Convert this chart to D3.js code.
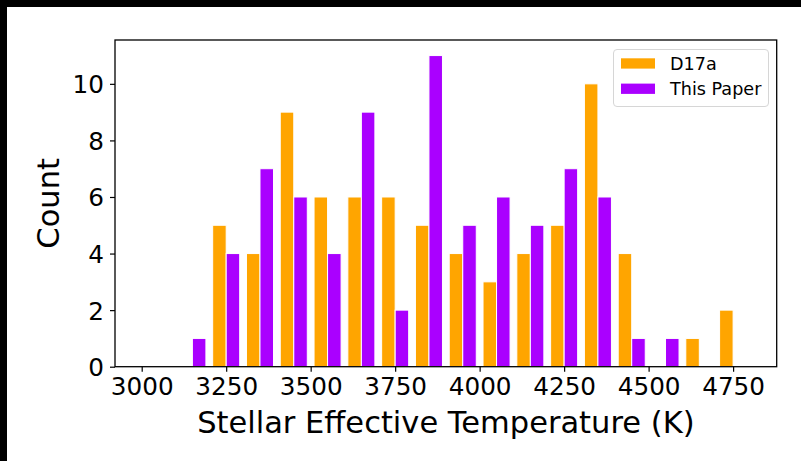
<!DOCTYPE html>
<html lang="en">
<head>
    <meta charset="UTF-8">
    <title>Stellar Effective Temperature histogram</title>
    <script src="https://d3js.org/d3.v7.min.js"></script>
    <style>
        body { margin: 0; background: #000; }
        text { font-family: "DejaVu Sans", sans-serif; fill: #000; }
    </style>
</head>
<body>
    <div id="chart"></div>

    <script>
        // bin centres (100 K bins from 3000 to 4800)
        const binCenters = [3050, 3150, 3250, 3350, 3450, 3550, 3650, 3750, 3850,
                            3950, 4050, 4150, 4250, 4350, 4450, 4550, 4650, 4750];
        const d17a      = [0, 0, 5, 4, 9, 6, 6, 6, 5, 4, 3, 4, 5, 10, 4, 0, 1, 2];
        const thisPaper = [0, 1, 4, 7, 6, 4, 9, 2, 11, 5, 6, 5, 7, 6, 1, 1, 0, 0];
        const seriesNames = ["D17a", "This Paper"];
        const seriesColors = ["#ffa500", "#aa00ff"];
        const xTicks = [3000, 3250, 3500, 3750, 4000, 4250, 4500, 4750];
        const yTicks = [0, 2, 4, 6, 8, 10];

        const width = 801, height = 461;
        const plot = { left: 115, right: 776.7, top: 40, bottom: 366.7 };
        const binWidth = 100;
        const barW = binWidth * 0.4;

        const svg = d3.select('#chart').append('svg')
            .attr('width', width)
            .attr('height', height);

        // black frame on top/left, white figure
        svg.append('rect').attr('width', width).attr('height', height).attr('fill', '#000');
        svg.append('rect').attr('x', 7).attr('y', 7)
            .attr('width', width - 7).attr('height', height - 7).attr('fill', '#fff');

        const xMin = d3.min(binCenters) - barW, xMax = d3.max(binCenters) + barW;
        const pad = (xMax - xMin) * 0.05;
        const x = d3.scaleLinear().domain([xMin - pad, xMax + pad]).range([plot.left, plot.right]);
        const yMax = d3.max(d17a.concat(thisPaper)) * 1.05;
        const y = d3.scaleLinear().domain([0, yMax]).range([plot.bottom, plot.top]);

        // bars
        const series = [d17a, thisPaper];
        series.forEach((vals, si) => {
            const rows = binCenters.map((c, i) => ({ c: c, v: vals[i] })).filter(d => d.v > 0);
            svg.append('g').selectAll('rect')
                .data(rows)
                .enter()
                .append('rect')
                .attr('x', d => x(d.c - barW + si * barW))
                .attr('y', d => y(d.v))
                .attr('width', d => x(d.c + barW) - x(d.c))
                .attr('height', d => y(0) - y(d.v))
                .attr('fill', seriesColors[si])
                .attr('stroke', '#fff')
                .attr('stroke-width', 1);
        });

        // axes
        const xAxis = svg.append('g')
            .attr('transform', `translate(0,${plot.bottom})`)
            .call(d3.axisBottom(x).tickValues(xTicks).tickFormat(d3.format('d')).tickSize(5).tickPadding(6));
        const yAxis = svg.append('g')
            .attr('transform', `translate(${plot.left},0)`)
            .call(d3.axisLeft(y).tickValues(yTicks).tickFormat(d3.format('d')).tickSize(5).tickPadding(6));
        [xAxis, yAxis].forEach(a => {
            a.select('.domain').remove();
            a.selectAll('.tick line').attr('stroke', '#000').attr('stroke-width', 1.2);
            a.selectAll('.tick text').attr('font-size', 24.7).attr('font-family', 'DejaVu Sans').attr('fill', '#000');
        });
        yAxis.selectAll('.tick text').attr('dy', '0.36em');

        // frame
        svg.append('rect')
            .attr('x', plot.left).attr('y', plot.top)
            .attr('width', plot.right - plot.left).attr('height', plot.bottom - plot.top)
            .attr('fill', 'none').attr('stroke', '#000').attr('stroke-width', 1.3);

        // axis labels
        svg.append('text')
            .attr('x', (plot.left + plot.right) / 2)
            .attr('y', 432.5)
            .attr('text-anchor', 'middle')
            .attr('font-size', 30.5)
            .text('Stellar Effective Temperature (K)');
        svg.append('text')
            .attr('transform', `translate(59,${(plot.top + plot.bottom) / 2}) rotate(-90)`)
            .attr('text-anchor', 'middle')
            .attr('font-size', 30.5)
            .text('Count');

        // legend
        const lg = svg.append('g');
        lg.append('rect')
            .attr('x', 613.5).attr('y', 49.5).attr('width', 155).attr('height', 57)
            .attr('rx', 3.5).attr('fill', '#fff').attr('fill-opacity', 0.8)
            .attr('stroke', '#d6d6d6').attr('stroke-width', 1);
        seriesNames.forEach((name, i) => {
            lg.append('rect')
                .attr('x', 621).attr('y', 58.3 + i * 25.3)
                .attr('width', 34).attr('height', 10.3)
                .attr('fill', seriesColors[i]);
            lg.append('text')
                .attr('x', 670).attr('y', 69.7 + i * 25.3)
                .attr('font-size', 17.6)
                .text(name);
        });
    </script>
</body>
</html>
